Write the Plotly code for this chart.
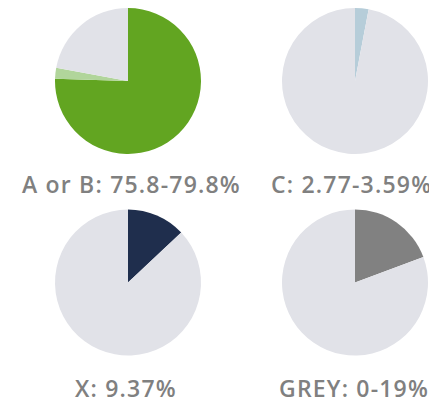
import plotly.graph_objects as go

# The page body has an 8px margin, so the figure is placed at (8, 8) in the window.
OFF = 8
W, H = 437 - OFF, 403 - OFF

titles = ["A or B: 75.8-79.8%", "C: 2.77-3.59%", "X: 9.37%", "GREY: 0-19%"]
values_ab = [75.5, 2.4, 22.1]
values_c = [3.0, 97.0]
values_x = [13.0, 87.0]
values_grey = [19.3, 80.7]
colors_ab = ["#62a521", "#b1d59b", "#e1e2e8"]
colors_c = ["#b6cdd9", "#e1e2e8"]
colors_x = ["#1f2e4d", "#e1e2e8"]
colors_grey = ["#818181", "#e1e2e8"]

# window-pixel centers and radius
centers = [(128, 81), (355, 81), (128, 282.5), (355, 282.5)]
R = 73
label_pos = [(131.5, 184), (351.5, 184), (126.5, 388), (354, 388)]

fig = go.Figure()
series = [(values_ab, colors_ab), (values_c, colors_c), (values_x, colors_x), (values_grey, colors_grey)]
for (vals, cols), (cx, cy) in zip(series, centers):
    cx -= OFF
    cy -= OFF
    fig.add_trace(go.Pie(
        values=vals,
        marker=dict(colors=cols, line=dict(width=0)),
        sort=False,
        direction="clockwise",
        rotation=0,
        textinfo="none",
        hoverinfo="skip",
        showlegend=False,
        domain=dict(x=[(cx - R) / W, (cx + R) / W], y=[(H - cy - R) / H, (H - cy + R) / H]),
    ))

for t, (lx, ly) in zip(titles, label_pos):
    lx -= OFF
    ly -= OFF
    fig.add_annotation(
        text='<span style="letter-spacing:1.2px">' + t + '</span>',
        x=lx / W, y=(H - ly) / H, xref="paper", yref="paper",
        showarrow=False, xanchor="center", yanchor="middle",
        font=dict(family="Open Sans", size=23, color="#808080", weight=600),
    )

fig.update_layout(
    width=W, height=H,
    margin=dict(l=0, r=0, t=0, b=0),
    paper_bgcolor="white", plot_bgcolor="white",
)
fig.write_html("out.html")
